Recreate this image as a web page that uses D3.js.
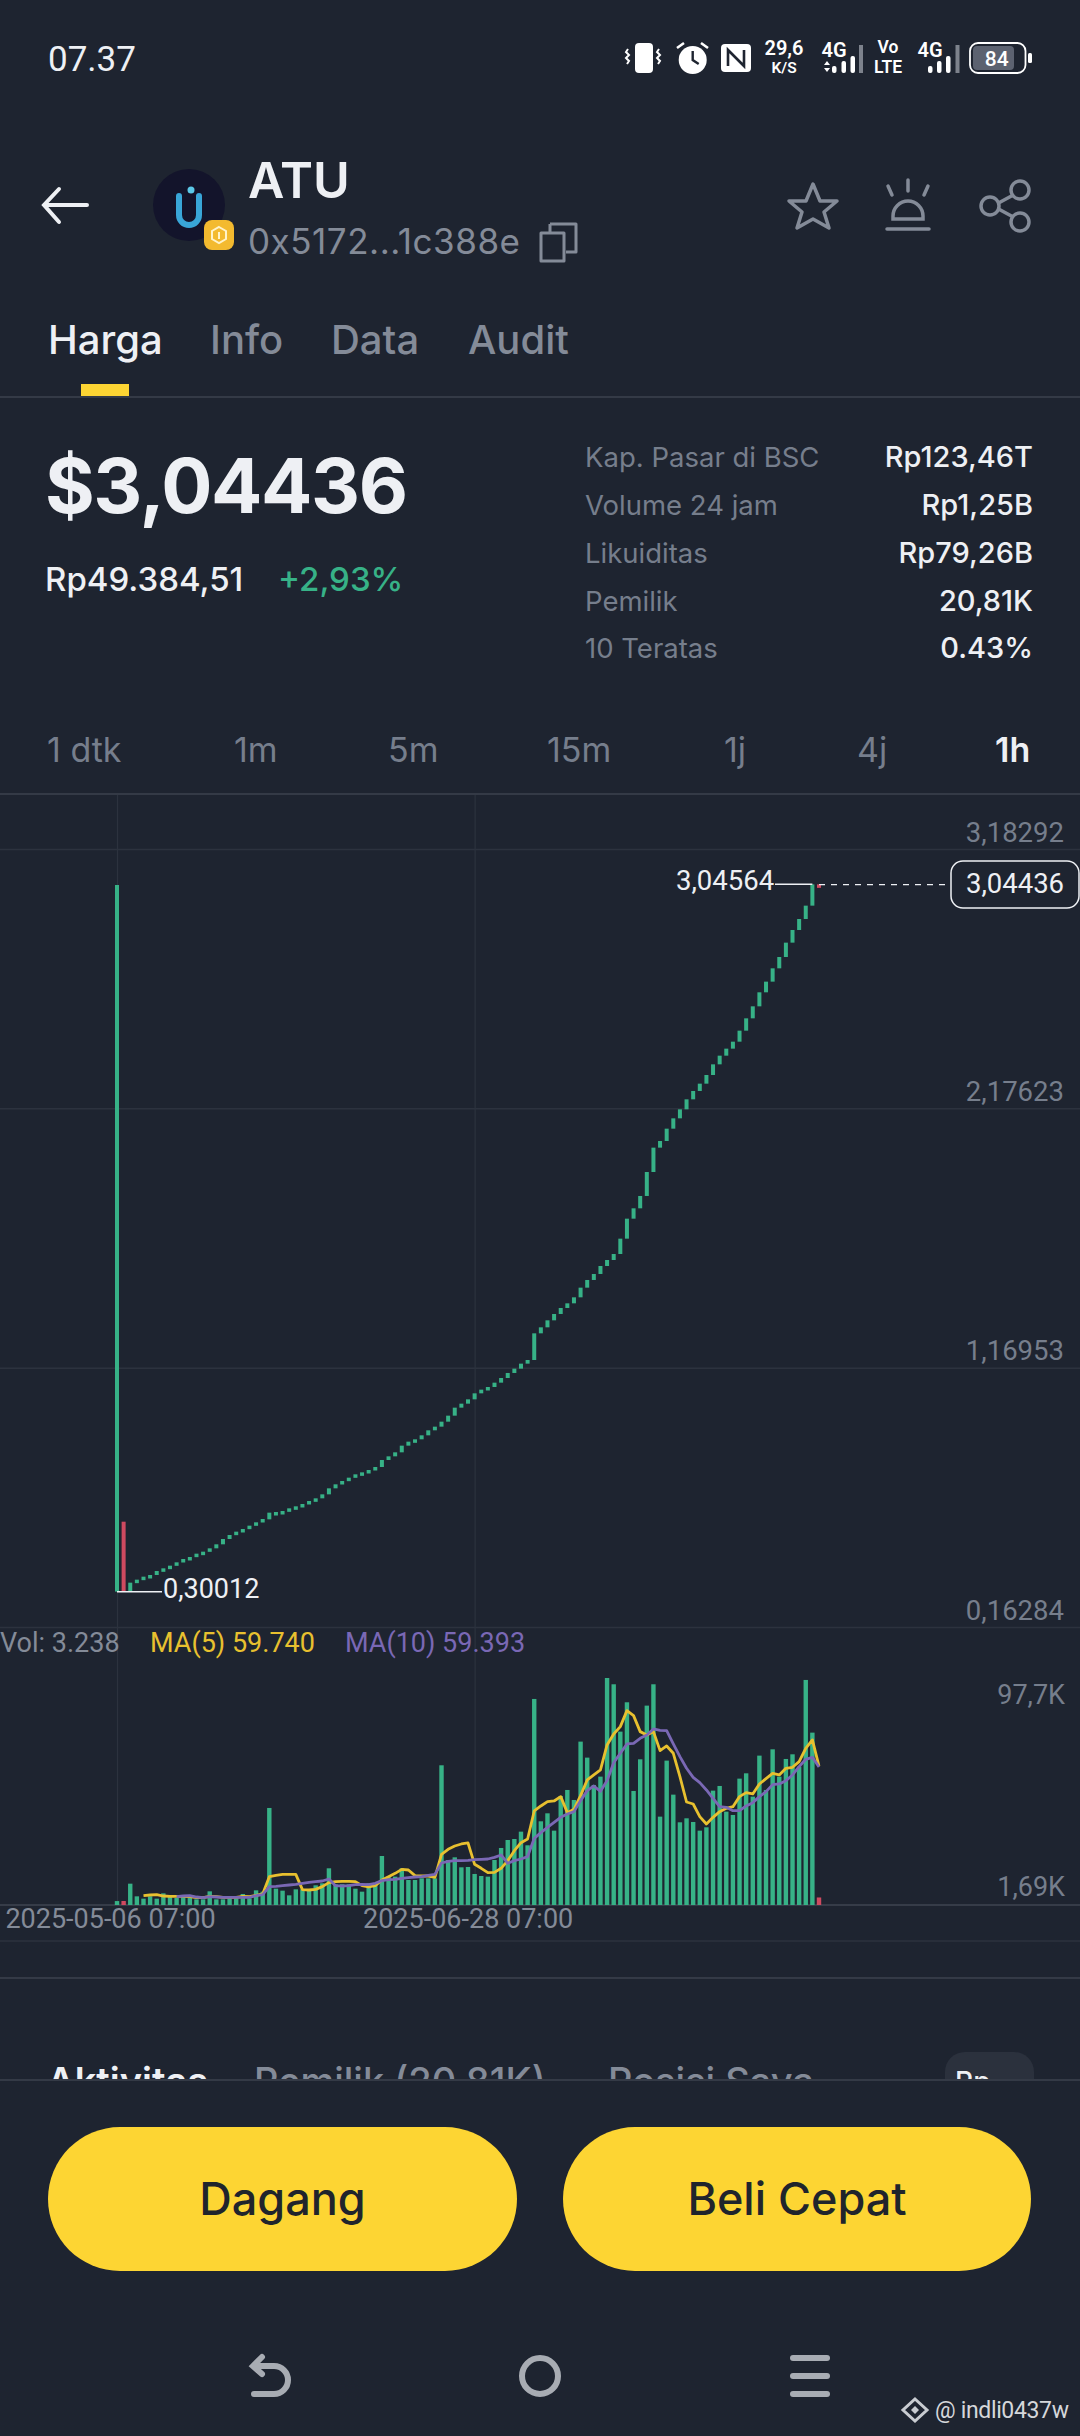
<!DOCTYPE html>
<html>
<head>
<meta charset="utf-8">
<script src="https://cdn.jsdelivr.net/npm/d3@7"></script>
<style>
  html, body { margin: 0; padding: 0; background: #1e2430; }
  svg { display: block; }
  text { font-family: Inter, sans-serif; }
  .mono text, text.mono { font-family: Roboto, sans-serif; }
</style>
</head>
<body>
<div class="chart"></div>
<script>
// candles, one per day ("1h" tab)
const opens = [0.30012,0.5716,0.30012,0.3349,0.3466,0.3582,0.3647,0.3802,0.3906,0.4009,
  0.4139,0.4268,0.4346,0.4475,0.4553,0.4682,0.4838,0.5044,0.52,0.5329,
  0.5433,0.5562,0.5692,0.5808,0.5965,0.6092,0.6131,0.6235,0.6313,0.6403,
  0.652,0.6623,0.6778,0.7011,0.7167,0.7296,0.7425,0.7555,0.7632,0.7723,
  0.7839,0.8111,0.8253,0.8409,0.8668,0.8823,0.8914,0.9069,0.9263,0.9405,
  0.9599,0.9832,1.0143,1.0298,1.0466,1.0699,1.0842,1.0945,1.1113,1.1294,
  1.1489,1.1657,1.1851,1.1993,1.3028,1.3261,1.3533,1.3779,1.4012,1.4193,
  1.4426,1.4801,1.5099,1.5332,1.5642,1.5875,1.6108,1.6703,1.7479,1.7881,
  1.836,1.9291,2.0236,2.0494,2.0973,2.1374,2.1724,2.2112,2.2436,2.272,
  2.3056,2.347,2.3807,2.4079,2.435,2.4777,2.5256,2.5722,2.6266,2.668,
  2.7197,2.7637,2.8194,2.8685,2.9112,2.963,3.04564];
const closes = [3.0432,0.30012,0.3349,0.3466,0.3582,0.3647,0.3802,0.3906,0.4009,0.4139,
  0.4268,0.4346,0.4475,0.4553,0.4682,0.4838,0.5044,0.52,0.5329,0.5433,
  0.5562,0.5692,0.5821,0.6067,0.6092,0.6131,0.6235,0.6313,0.6403,0.652,
  0.6623,0.6778,0.7011,0.7167,0.7296,0.7425,0.7555,0.7632,0.7723,0.7839,
  0.8111,0.8253,0.8409,0.8668,0.8823,0.8914,0.9069,0.9263,0.9405,0.9599,
  0.9832,1.0143,1.0298,1.0466,1.0699,1.0842,1.0945,1.1113,1.1294,1.1489,
  1.1657,1.1851,1.1993,1.3028,1.3261,1.3533,1.3779,1.4012,1.4193,1.4426,
  1.4801,1.5099,1.5332,1.5642,1.5875,1.6108,1.6703,1.7479,1.7881,1.836,
  1.9291,2.0236,2.0494,2.0973,2.1374,2.1724,2.2112,2.2436,2.272,2.3056,
  2.347,2.3807,2.4079,2.435,2.4777,2.5256,2.5722,2.6266,2.668,2.7197,
  2.7637,2.8194,2.8685,2.9112,2.963,3.04564,3.04436];

// volume in K
const volumes = [1.69,1.72,9.18,3.73,2.73,3.73,2.73,5.02,3.59,3.01,
  3.59,3.3,2.44,2.44,5.88,2.44,2.44,2.87,2.87,4.74,
  2.87,6.31,5.74,41.76,7.03,6.17,4.16,6.74,6.74,6.74,
  8.47,9.33,15.79,8.9,8.9,8.9,7.03,5.74,9.33,8.61,
  21.09,12.2,12.2,15.79,10.76,10.76,11.48,11.48,11.48,60.13,
  19.37,20.52,16.22,16.36,13.35,12.48,12.2,19.37,24.54,27.98,
  28.41,31.57,25.69,88.68,36.02,39.46,32,46.92,49.51,45.2,
  70.32,63.43,51.66,55.25,97.7,95,74.62,87.25,49.08,62.71,
  85.81,95,38.03,62.14,47.5,35.59,37.31,35.73,32,33.44,
  49.22,51.23,40.18,38.75,54.39,56.68,46.64,64.29,49.51,67.01,
  55.25,62.85,64.86,59.55,96.86,74.19,3.238];
const ma5 = [null,null,null,null,4.02,4.31,4.45,3.87,3.73,3.73,
  3.73,3.59,3.16,3.16,3.73,3.59,3.3,3.3,3.3,3.73,
  3.59,4.16,4.74,12.2,12.77,13.2,13.2,13.2,6.6,6.46,
  6.74,7.89,9.61,10.05,10.19,10.19,10.05,8.32,7.75,8.32,
  10.76,12.2,13.63,15.35,15.07,12.63,12.48,12.48,11.91,21.81,
  23.96,25.4,26.26,26.69,17.51,15.79,13.92,14.06,15.79,19.09,
  23.39,26.83,28.41,40.47,42.62,44.49,44.77,46.64,39.75,41.18,
  47.07,53.81,55.97,58.12,68.88,73.62,76.77,83.66,81.51,74.62,
  73.19,74.62,66.44,68.45,65.29,55.25,44.34,43.48,38.03,34.87,
  37.74,40.18,41.62,42.33,46.64,48.36,47.79,52.09,54.39,56.68,
  55.97,58.84,59.27,61.71,67.45,71.03,59.74];
const ma10 = [null,null,null,null,null,null,null,null,null,3.59,
  3.87,4.02,3.44,3.16,3.59,3.44,3.3,3.3,3.3,3.3,
  3.3,4.02,4.45,7.89,8.04,8.32,8.61,8.9,9.33,9.76,
  10.05,10.33,11.19,8.32,8.18,8.32,8.75,8.9,8.75,9.33,
  10.48,10.91,11.05,11.48,11.77,12.05,12.2,12.77,13.2,18.08,
  18.8,19.09,19.09,19.23,19.52,19.66,19.8,20.52,21.53,17.94,
  19.09,19.8,20.81,28.7,31.14,33.44,35.59,37.74,39.18,40.18,
  44.92,49.22,51.23,48.93,53.53,61.27,65.29,69.31,69.6,71.75,
  73.19,75.77,75.19,75.05,69.31,63.86,58.84,54.96,52.66,49.51,
  45.92,42.33,42.05,40.61,40.61,42.62,44.05,46.64,48.79,51.8,
  52.09,53.53,55.97,59.55,62.71,63.57,59.393];

const priceTicks = [3.18292, 2.17623, 1.16953, 0.16284];
const volTicks = [97.7, 1.69];
const volTickLabels = ["97,7K", "1,69K"];
const dateTicks = [0, 54];
const dateLabels = ["2025-05-06 07:00", "2025-06-28 07:00"];
const lastPrice = 3.04436;

const tabs = ["Harga", "Info", "Data", "Audit"];
const statNames = ["Kap. Pasar di BSC", "Volume 24 jam", "Likuiditas", "Pemilik", "10 Teratas"];
const statValues = ["Rp123,46T", "Rp1,25B", "Rp79,26B", "20,81K", "0.43%"];
const intervals = ["1 dtk", "1m", "5m", "15m", "1j", "4j", "1h"];
const intervalX = [47, 234, 388, 547, 724, 857, 995];

const BG = "#1e2430", GREEN = "#37b287", RED = "#cf4a60", YELLOW = "#fdd533";
const GRID = "#2c323e", DIM = "#767e8c", GREY = "#848b98", WHITE = "#eef0f4";

const svg = d3.select(".chart").append("svg")
  .attr("width", 1080).attr("height", 2436)
  .style("background", BG);

const fmt = d => d.toFixed(5).replace(".", ",");

function label(x, y, txt, size, fill, weight, anchor) {
  return svg.append("text").attr("x", x).attr("y", y)
    .attr("font-size", size).attr("fill", fill)
    .attr("font-weight", weight || 400)
    .attr("text-anchor", anchor || "start")
    .text(txt);
}

// scales
const xScale = d3.scaleLinear().domain([0, opens.length - 1]).range([117, 819]);
const yScale = d3.scaleLinear().domain([0.16284, 3.18292]).range([1627, 849]);
const volScale = d3.scaleLinear().domain([0, 97.7]).range([1905, 1678]);

// price grid and labels
svg.append("g").attr("class", "axis y-axis mono")
  .call(d3.axisRight(yScale).tickValues(priceTicks).tickSize(1080).tickFormat(fmt))
  .call(g => g.select(".domain").remove())
  .call(g => g.selectAll(".tick line").attr("stroke", GRID).attr("stroke-width", 1.5))
  .call(g => g.selectAll(".tick text")
    .attr("x", 1064).attr("y", -8).attr("dy", 0)
    .attr("text-anchor", "end").attr("fill", DIM).attr("font-size", 27.5));

// date axis, its tick lines are the vertical grid
svg.append("g").attr("class", "axis x-axis mono")
  .attr("transform", "translate(0,1905)")
  .call(d3.axisBottom(xScale).tickValues(dateTicks).tickSize(-1111).tickFormat((d, i) => dateLabels[i]))
  .call(g => g.select(".domain").remove())
  .call(g => g.selectAll(".tick line").attr("stroke", GRID).attr("stroke-width", 1.2))
  .call(g => g.selectAll(".tick text")
    .attr("y", 23).attr("dy", 0).attr("dx", -7)
    .attr("fill", GREY).attr("font-size", 27));

svg.append("line").attr("x1", 0).attr("x2", 1080).attr("y1", 1905).attr("y2", 1905)
  .attr("stroke", "#363c48").attr("stroke-width", 2);

// candles
svg.append("g").selectAll("rect")
  .data(opens)
  .join("rect")
  .attr("x", (d, i) => xScale(i) - 2)
  .attr("width", 4)
  .attr("y", (d, i) => yScale(Math.max(d, closes[i])))
  .attr("height", (d, i) => Math.max(3.5, Math.abs(yScale(d) - yScale(closes[i]))))
  .attr("fill", (d, i) => closes[i] < d ? RED : GREEN);

// volume bars
svg.append("g").selectAll("rect")
  .data(volumes)
  .join("rect")
  .attr("x", (d, i) => xScale(i) - 2.2)
  .attr("width", 4.4)
  .attr("y", d => volScale(d))
  .attr("height", d => volScale(0) - volScale(d))
  .attr("fill", (d, i) => closes[i] < opens[i] ? RED : GREEN);

// moving averages
const maLine = d3.line()
  .defined(d => d !== null)
  .x((d, i) => xScale(i))
  .y(d => volScale(d));
svg.append("path").datum(ma5).attr("fill", "none").attr("stroke", "#e8c02f")
  .attr("stroke-width", 2.8).attr("stroke-linejoin", "round").attr("d", maLine);
svg.append("path").datum(ma10).attr("fill", "none").attr("stroke", "#7a68b5")
  .attr("stroke-width", 2.8).attr("stroke-linejoin", "round").attr("d", maLine);

// volume labels
svg.append("g").attr("class", "axis mono")
  .call(d3.axisRight(volScale).tickValues(volTicks).tickSize(0).tickFormat((d, i) => volTickLabels[i]))
  .call(g => g.select(".domain").remove())
  .call(g => g.selectAll(".tick text")
    .attr("x", 1065).attr("dy", 0).attr("y", d => d > 50 ? 25 : -6)
    .attr("text-anchor", "end").attr("fill", DIM).attr("font-size", 27));

label(0, 1652, "Vol: 3.238", 27, GREY).attr("class", "mono");
label(150, 1652, "MA(5) 59.740", 27, "#e8c02f").attr("class", "mono");
label(345, 1652, "MA(10) 59.393", 27, "#7a68b5").attr("class", "mono");

// high / low / last price callouts
const iHigh = d3.maxIndex(opens), iLow = d3.minIndex(opens);
const high = opens[iHigh], low = opens[iLow];
svg.append("line").attr("x1", 775).attr("x2", xScale(iHigh - 1)).attr("y1", yScale(high)).attr("y2", yScale(high))
  .attr("stroke", WHITE).attr("stroke-width", 1.5);
label(676, yScale(high) + 6, fmt(high), 27.5, WHITE).attr("class", "mono");
svg.append("line").attr("x1", xScale(iLow)).attr("x2", 162).attr("y1", yScale(low)).attr("y2", yScale(low))
  .attr("stroke", WHITE).attr("stroke-width", 1.5);
label(163, yScale(low) + 6, fmt(low), 27, WHITE).attr("class", "mono");

svg.append("line").attr("x1", xScale(opens.length - 1)).attr("x2", 951)
  .attr("y1", yScale(lastPrice)).attr("y2", yScale(lastPrice))
  .attr("stroke", WHITE).attr("stroke-width", 1.3).attr("stroke-dasharray", "6,6");
svg.append("rect").attr("x", 951).attr("y", 861).attr("width", 128).attr("height", 47).attr("rx", 12)
  .attr("fill", BG).attr("stroke", WHITE).attr("stroke-width", 1.5);
label(1015, 893, fmt(lastPrice), 27.5, WHITE, 400, "middle").attr("class", "mono");

// status bar
label(48, 71, "07.37", 35, WHITE, 400).attr("class", "mono");
const icons = svg.append("g").attr("fill", "#fff");
icons.append("rect").attr("x", 635).attr("y", 43).attr("width", 18).attr("height", 30).attr("rx", 4);
[628, 659].forEach(x => icons.append("path").attr("fill", "none").attr("stroke", "#fff").attr("stroke-width", 2)
  .attr("d", `M${x},49l-2,3l3,3l-3,3l3,3l-2,3`));
icons.append("circle").attr("cx", 692.7).attr("cy", 60).attr("r", 14);
icons.append("path").attr("fill", "none").attr("stroke", BG).attr("stroke-width", 2.4).attr("d", "M692.7,51v9l6,4");
icons.append("path").attr("fill", "none").attr("stroke", "#fff").attr("stroke-width", 2.6).attr("d", "M677,48l7,-5M708,48l-7,-5");
icons.append("rect").attr("x", 721).attr("y", 44).attr("width", 30).attr("height", 28).attr("rx", 4);
icons.append("path").attr("fill", "none").attr("stroke", BG).attr("stroke-width", 2.6).attr("d", "M728,66V50L744,66V50");
[[784, 55, "29,6", 20], [784, 72.5, "K/S", 15.5], [834, 57, "4G", 20], [888, 53, "Vo", 17.5], [888, 73, "LTE", 17.5], [930, 57, "4G", 20]]
  .forEach(t => label(t[0], t[1], t[2], t[3], "#fff", 600, "middle").attr("class", "mono"));
icons.append("path").attr("d", "M824,65l3,-4l3,4zM824,68l3,4l3,-4z");
[832, 841.5, 850.5, 928, 937, 946].forEach((x, i) => icons.append("rect")
  .attr("x", x).attr("width", 4.5).attr("rx", 2)
  .attr("y", [66, 61, 56][i % 3]).attr("height", [7, 12, 17][i % 3]));
[859, 955.5].forEach(x => icons.append("rect").attr("x", x).attr("y", 45).attr("width", 4).attr("height", 28).attr("fill", "#7d828c"));
icons.append("rect").attr("x", 970).attr("y", 43).attr("width", 55.5).attr("height", 30).attr("rx", 8)
  .attr("fill", "none").attr("stroke", "#fff").attr("stroke-width", 1.8);
icons.append("rect").attr("x", 973).attr("y", 46).attr("width", 41).attr("height", 24).attr("rx", 4).attr("fill", "#5c6270");
icons.append("rect").attr("x", 1028).attr("y", 53).attr("width", 4).attr("height", 10).attr("rx", 1.5);
label(996.7, 65.7, "84", 21, "#fff", 500, "middle").attr("class", "mono");

// header
svg.append("path").attr("fill", "none").attr("stroke", WHITE).attr("stroke-width", 4).attr("stroke-linecap", "round")
  .attr("d", "M87,205H45M59,189L44,205L59,222");
svg.append("circle").attr("cx", 189).attr("cy", 205).attr("r", 36).attr("fill", "#13142b");
svg.append("path").attr("fill", "none").attr("stroke", "#39a6d8").attr("stroke-width", 6).attr("stroke-linecap", "round")
  .attr("d", "M179,196v19a10,10 0 0 0 20,0v-19");
svg.append("circle").attr("cx", 191).attr("cy", 190).attr("r", 3.5).attr("fill", "#5cc8e8");
svg.append("rect").attr("x", 204).attr("y", 220).attr("width", 30).attr("height", 30).attr("rx", 8).attr("fill", "#f3ba2f");
svg.append("path").attr("fill", "none").attr("stroke", "#fff3c9").attr("stroke-width", 2).attr("d", "M219,227l7,4v8l-7,4l-7,-4v-8zM219,232v7");
label(248, 198, "ATU", 50, WHITE, 600);
label(248, 254, "0x5172...1c388e", 35, GREY).attr("textLength", 272);
svg.append("path").attr("fill", "none").attr("stroke", GREY).attr("stroke-width", 3).attr("stroke-linejoin", "round")
  .attr("d", "M541,233h23v28h-23zM550,224h26v28h-10M550,224v8");
svg.append("path").attr("fill", "none").attr("stroke", GREY).attr("stroke-width", 3.5).attr("stroke-linejoin", "round")
  .attr("d", "M813,184l7,17h17l-13,11l5,16l-16,-9l-16,9l5,-16l-13,-11h17z");
svg.append("path").attr("fill", "none").attr("stroke", GREY).attr("stroke-width", 3.5).attr("stroke-linecap", "round")
  .attr("d", "M908,180v11M888,186l4,9M928,186l-4,9M893,219v-3a15,15 0 0 1 30,0v3zM887,229h42");
svg.append("g").attr("fill", "none").attr("stroke", GREY).attr("stroke-width", 3.5)
  .call(g => g.append("path").attr("d", "M1017,193L993,206L1017,219"))
  .call(g => [[1020, 190], [990, 206], [1020, 222]].forEach(c =>
    g.append("circle").attr("cx", c[0]).attr("cy", c[1]).attr("r", 9).attr("fill", BG)));

// tabs
[48, 210, 331, 468].forEach((x, i) => label(x, 354, tabs[i], 40, i ? GREY : WHITE, 500));
svg.append("rect").attr("x", 81).attr("y", 384).attr("width", 48).attr("height", 13).attr("fill", YELLOW);
[397, 794].forEach(y => svg.append("line").attr("x1", 0).attr("x2", 1080).attr("y1", y).attr("y2", y)
  .attr("stroke", "#343a46").attr("stroke-width", 2));

// price block
label(45, 513, "$3,04436", 76, WHITE, 700).attr("textLength", 363);
label(45, 591, "Rp49.384,51", 33, WHITE, 500);
label(278, 591, "+2,93%", 33, GREEN, 500);
[467, 515, 563, 611, 658].forEach((y, i) => {
  label(585, y, statNames[i], 27.5, DIM);
  label(1033, y, statValues[i], 29, WHITE, 500, "end");
});
intervals.forEach((t, i) => label(intervalX[i], 762, t, 34, i === 6 ? WHITE : DIM, i === 6 ? 600 : 400));

// lower panels
svg.append("line").attr("x1", 0).attr("x2", 1080).attr("y1", 1941).attr("y2", 1941).attr("stroke", GRID).attr("stroke-width", 1.5);
svg.append("line").attr("x1", 0).attr("x2", 1080).attr("y1", 1978).attr("y2", 1978).attr("stroke", "#343a46").attr("stroke-width", 2);

svg.append("clipPath").attr("id", "panel").append("rect").attr("x", 0).attr("y", 2040).attr("width", 1080).attr("height", 39);
const panel = svg.append("g").attr("clip-path", "url(#panel)");
panel.append("rect").attr("x", 945).attr("y", 2052).attr("width", 89).attr("height", 50).attr("rx", 20).attr("fill", "#2b313d");
[[47, "Aktivitas", WHITE], [254, "Pemilik (20,81K)", GREY], [608, "Posisi Saya", GREY], [955, "Rp", WHITE]].forEach(t =>
  panel.append("text").attr("x", t[0]).attr("y", t[1] === "Rp" ? 2092 : 2095)
    .attr("font-size", t[1] === "Rp" ? 28 : 38).attr("font-weight", t[1] === "Aktivitas" ? 600 : 500)
    .attr("fill", t[2]).text(t[1]));
svg.append("line").attr("x1", 0).attr("x2", 1080).attr("y1", 2080).attr("y2", 2080).attr("stroke", "#343a46").attr("stroke-width", 2);

// buttons
[[48, 469, "Dagang"], [563, 468, "Beli Cepat"]].forEach(b => {
  svg.append("rect").attr("x", b[0]).attr("y", 2127).attr("width", b[1]).attr("height", 144).attr("rx", 72).attr("fill", YELLOW);
  label(b[0] + b[1] / 2, 2215, b[2], 45, "#20242c", 500, "middle");
});

// nav bar
svg.append("path").attr("fill", "none").attr("stroke", "#a8acb3").attr("stroke-width", 6).attr("stroke-linecap", "round")
  .attr("d", "M254,2394h20a14,14 0 0 0 0,-28h-20M262,2357l-9,9l9,8");
svg.append("circle").attr("cx", 540).attr("cy", 2376).attr("r", 18).attr("fill", "none").attr("stroke", "#a8acb3").attr("stroke-width", 6);
[2355, 2373, 2391].forEach(y => svg.append("rect").attr("x", 790).attr("y", y).attr("width", 40).attr("height", 6).attr("rx", 3).attr("fill", "#a8acb3"));

// watermark
svg.append("path").attr("fill", "none").attr("stroke", "#c9ccd1").attr("stroke-width", 3)
  .attr("d", "M915,2399l12,11l-12,11l-12,-11z");
svg.append("path").attr("fill", "#c9ccd1").attr("d", "M915,2406l4,4l-4,4l-4,-4z");
label(935, 2418, "@ indli0437w", 23, "#d5d7da").attr("class", "mono").attr("textLength", 134);
</script>
</body>
</html>
